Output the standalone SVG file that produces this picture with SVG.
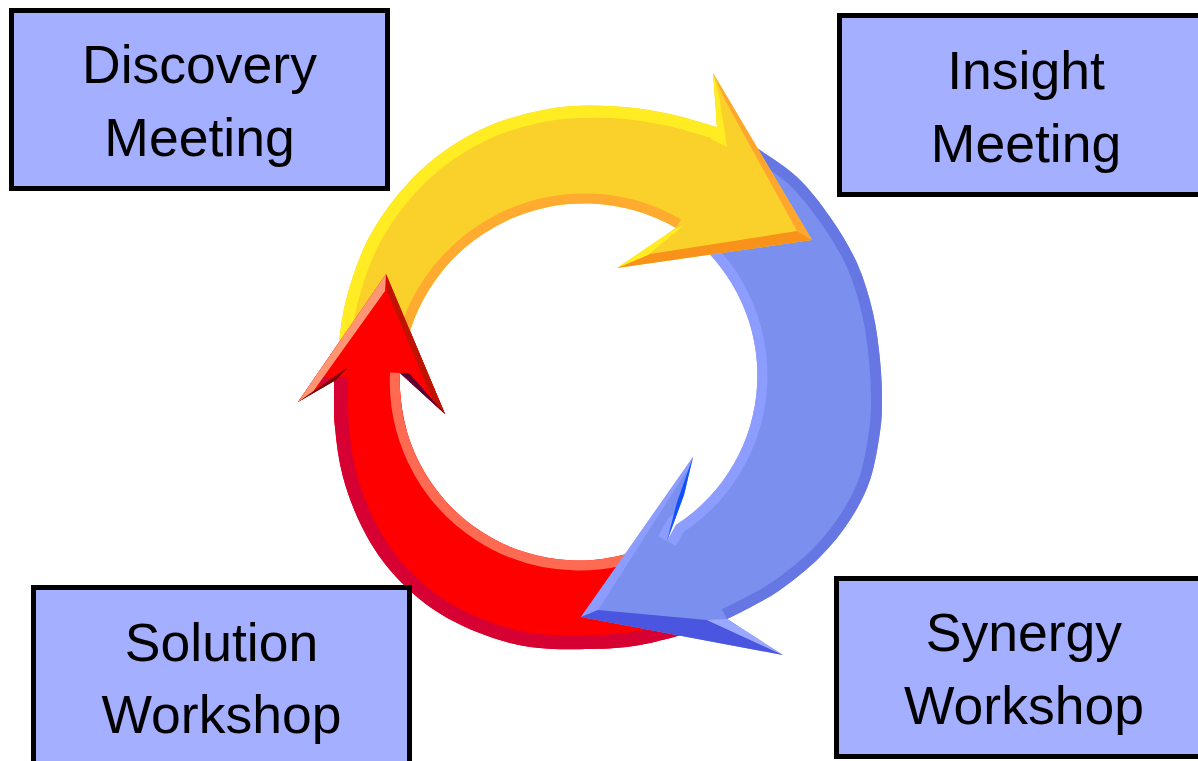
<svg xmlns="http://www.w3.org/2000/svg" width="1198" height="761" viewBox="0 0 1198 761">
<style>
.box{fill:#A4AFFF;stroke:#000;stroke-width:5}
.lbl{font-family:"Liberation Sans",Arial,sans-serif;font-size:53.5px;fill:#000;text-anchor:middle}
.band{fill:none;stroke-linecap:butt}
</style>
<defs>
<path id="yShape" d="M713,73 L812,240 L617,268 L676,228 A183,183 0 0 0 403,362 L337,362 C338.5,351.7 340.2,321.7 346,300 C351.8,278.3 359.7,253.5 372,232 C384.3,210.5 402,188 420,171 C438,154 458.7,140.3 480,130 C501.3,119.7 526.3,113 548,109 C569.7,105 590.5,105.3 610,106 C629.5,106.7 647.2,109.5 665,113 C682.8,116.5 708.3,124.7 717,127 Z"/>
<path id="rShape" d="M386,274 L445,414 L400,373 A179,179 0 0 0 660,541 L700,630 C690,632.5 658.3,641.8 640,645 C621.7,648.2 608.3,648.7 590,649 C571.7,649.3 548.8,649.8 530,647 C511.2,644.2 493.7,638.7 477,632 C460.3,625.3 444.5,617.3 430,607 C415.5,596.7 401.3,583.3 390,570 C378.7,556.7 369.8,542.5 362,527 C354.2,511.5 347.5,493.7 343,477 C338.5,460.3 336.5,443.7 335,427 C333.5,410.3 334.2,385.3 334,377 L298,402 Z"/>
<path id="bShape" d="M735,134 C738.7,136.3 746.7,140.8 757,148 C767.3,155.2 784.8,165.5 797,177 C809.2,188.5 820,202.7 830,217 C840,231.3 849.8,247 857,263 C864.2,279 869.2,296.8 873,313 C876.8,329.2 878.5,345.5 880,360 C881.5,374.5 882,388 882,400 C882,412 882,418.7 880,432 C878,445.3 875,465.3 870,480 C865,494.7 858.3,507.2 850,520 C841.7,532.8 831.7,545.3 820,557 C808.3,568.7 792.5,581.2 780,590 C767.5,598.8 753.8,605.2 745,610 C736.2,614.8 730,617.5 727,619 L783,655 L581,617 L693,457 L684,495 L667,541 L676,525 A178,178 0 0 0 690,236 Z"/>
<clipPath id="cY"><use href="#yShape"/></clipPath>
<clipPath id="cR"><use href="#rShape"/></clipPath>
<clipPath id="cB"><use href="#bShape"/></clipPath>
<clipPath id="cRHead"><rect x="280" y="260" width="180" height="170"/></clipPath>
</defs>
<g id="connectors">
<g id="arrow-red">
<use href="#rShape" fill="#FF0000"/>
<g clip-path="url(#cR)">
<path class="band" stroke="#D60032" stroke-width="28" d="M700,630 C690,632.5 658.3,641.8 640,645 C621.7,648.2 608.3,648.7 590,649 C571.7,649.3 548.8,649.8 530,647 C511.2,644.2 493.7,638.7 477,632 C460.3,625.3 444.5,617.3 430,607 C415.5,596.7 401.3,583.3 390,570 C378.7,556.7 369.8,542.5 362,527 C354.2,511.5 347.5,493.7 343,477 C338.5,460.3 336.5,443.7 335,427 C333.5,410.3 334.2,385.3 334,377"/>
<path class="band" stroke="#FF6B52" stroke-width="20" d="M400,373 A179,179 0 0 0 660,541"/>
</g>
<polygon fill="#FF9673" points="386,274 298,402 312,393 385,291"/>
<polygon fill="#C01200" points="386,274 445,414 434,403 387,291"/>
<polygon fill="#7A0000" points="298,402 348,367 336,380"/>
<polygon fill="#5A0035" points="400,373 409,373 445,414"/>
</g>
<g id="arrow-blue">
<use href="#bShape" fill="#7B90EE"/>
<g clip-path="url(#cB)">
<path class="band" stroke="#6677E3" stroke-width="22" d="M735,134 C738.7,136.3 746.7,140.8 757,148 C767.3,155.2 784.8,165.5 797,177 C809.2,188.5 820,202.7 830,217 C840,231.3 849.8,247 857,263 C864.2,279 869.2,296.8 873,313 C876.8,329.2 878.5,345.5 880,360 C881.5,374.5 882,388 882,400 C882,412 882,418.7 880,432 C878,445.3 875,465.3 870,480 C865,494.7 858.3,507.2 850,520 C841.7,532.8 831.7,545.3 820,557 C808.3,568.7 792.5,581.2 780,590 C767.5,598.8 753.8,605.2 745,610 C736.2,614.8 730,617.5 727,619"/>
<path class="band" stroke="#8C9DFF" stroke-width="20" d="M667,541 L676,525 A178,178 0 0 0 690,236"/>
</g>
<polygon fill="#8C9DFF" points="693,457 581,617 598,610 690,466"/>
<polygon fill="#4A56E0" points="581,617 598,610 707,620 783,655"/>
<polygon fill="#9AA8FF" points="707,620 727,619 783,655"/>
<polygon fill="#1050FF" points="693,457 684,495 667,541 677,502"/>
</g>
<g id="arrow-yellow">
<use href="#yShape" fill="#FAD12A"/>
<g clip-path="url(#cY)">
<path class="band" stroke="#FFEC22" stroke-width="24" d="M337,362 C338.5,351.7 340.2,321.7 346,300 C351.8,278.3 359.7,253.5 372,232 C384.3,210.5 402,188 420,171 C438,154 458.7,140.3 480,130 C501.3,119.7 526.3,113 548,109 C569.7,105 590.5,105.3 610,106 C629.5,106.7 647.2,109.5 665,113 C682.8,116.5 708.3,124.7 717,127"/>
<path class="band" stroke="#FFAB30" stroke-width="20" d="M676,228 A183,183 0 0 0 403,362"/>
</g>
<polygon fill="#FFEC22" points="713,73 717,127 711,139 727,147 719,95"/>
<polygon fill="#FFA62E" points="713,73 812,240 797,231 725,100"/>
<polygon fill="#F8921A" points="812,240 797,231 650,254 617,268"/>
<polygon fill="#FFEC22" points="617,268 676,228 683,226 648,255"/>
</g>
<use id="arrow-red-head" href="#arrow-red" clip-path="url(#cRHead)"/>
</g>
<g id="node-discovery">
<rect class="box" x="11.5" y="10.5" width="376" height="178"/>
<text class="lbl" x="199.5" y="83">Discovery</text>
<text class="lbl" x="199.5" y="156">Meeting</text>
</g>
<g id="node-insight">
<rect class="box" x="839.5" y="15.5" width="373" height="179"/>
<text class="lbl" x="1026" y="89">Insight</text>
<text class="lbl" x="1026" y="162">Meeting</text>
</g>
<g id="node-solution">
<rect class="box" x="33.5" y="587.5" width="376" height="180"/>
<text class="lbl" x="221.5" y="661">Solution</text>
<text class="lbl" x="221.5" y="733">Workshop</text>
</g>
<g id="node-synergy">
<rect class="box" x="836.5" y="578.5" width="375" height="178"/>
<text class="lbl" x="1024" y="651">Synergy</text>
<text class="lbl" x="1024" y="724">Workshop</text>
</g>
</svg>
